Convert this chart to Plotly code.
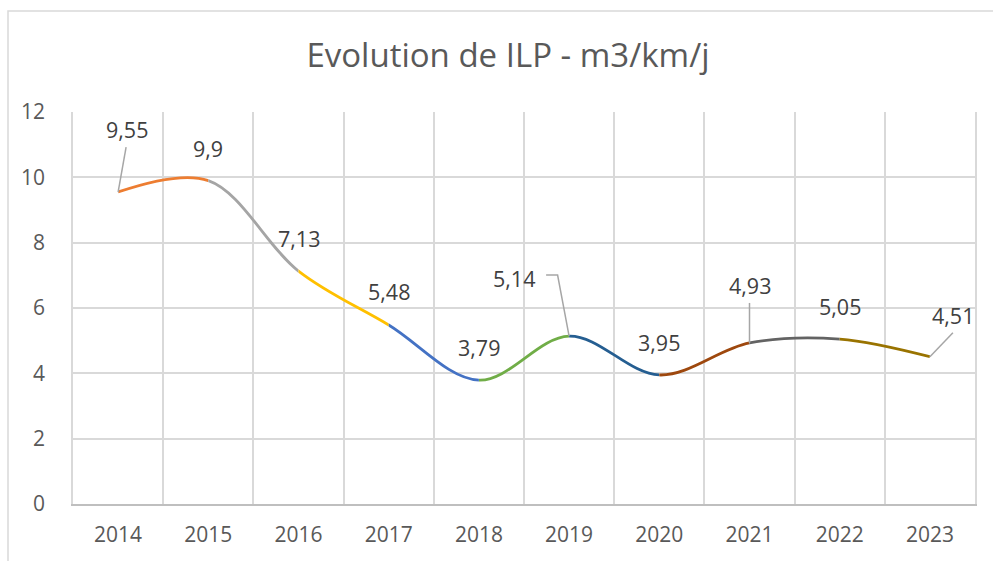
import plotly.graph_objects as go

years = ["2014", "2015", "2016", "2017", "2018", "2019", "2020", "2021", "2022", "2023"]
values = [9.55, 9.9, 7.13, 5.48, 3.79, 5.14, 3.95, 4.93, 5.05, 4.51]
labels = ["9,55", "9,9", "7,13", "5,48", "3,79", "5,14", "3,95", "4,93", "5,05", "4,51"]
seg_colors = ["#ED7D31", "#A5A5A5", "#FFC000", "#4472C4", "#70AD47",
              "#255E91", "#9E480E", "#636363", "#997300"]
y_ticks = [0, 2, 4, 6, 8, 10, 12]

# label offsets (pixels) relative to each point
label_shift = [(9, 63), (0, 32), (0, 33), (0, 33), (0, 33), (-55, 58),
               (0, 32), (0, 57), (0, 33), (23, 41)]
# leader line paths (pixels relative to point, y up)
leaders = {0: "M0,0 L8,45", 5: "M0,0 L-11.5,61 L-23,61", 7: "M0,0 L0,40", 9: "M0,0 L23,24"}

FONT = "Open Sans"
W, H = 993, 561
ML, MR, MT, MB = 73, 18, 112, 57
PW = W - ML - MR
PH = H - MT - MB

xs = list(range(len(years)))
n = len(years)

fig = go.Figure()
layout_axes = {}
for i in range(n - 1):
    ax_name = f"x{i + 2}"
    fig.add_trace(go.Scatter(
        x=xs, y=values, mode="lines",
        line=dict(color=seg_colors[i], width=2.8, shape="spline", smoothing=1, simplify=False),
        xaxis=ax_name, yaxis="y", hoverinfo="skip", showlegend=False,
    ))
    layout_axes[f"xaxis{i + 2}"] = dict(
        domain=[(i + 0.5) / n, (i + 1.5) / n], range=[i, i + 1],
        visible=False, anchor="y", fixedrange=True,
    )

annotations = []
for i, (lab, v) in enumerate(zip(labels, values)):
    dx, dy = label_shift[i]
    annotations.append(dict(
        x=xs[i], y=v, xref="x", yref="y", text=lab, showarrow=False,
        xshift=dx, yshift=dy, font=dict(family=FONT, size=21.5, color="#404040"),
    ))

shapes = []
for i, path in leaders.items():
    shapes.append(dict(
        type="path", xref="x", yref="y", xsizemode="pixel", ysizemode="pixel",
        xanchor=xs[i], yanchor=values[i], path=path,
        line=dict(color="#A6A6A6", width=1.5),
    ))
# outer chart border
shapes.append(dict(
    type="rect", xref="paper", yref="paper",
    x0=(8 - ML) / PW, x1=(1010 - ML) / PW,
    y0=(H - MB - 580) / PH, y1=(H - MB - 11) / PH,
    line=dict(color="#D9D9D9", width=1.5), fillcolor="rgba(0,0,0,0)", layer="below",
))

fig.update_layout(
    width=W, height=H,
    margin=dict(l=ML, r=MR, t=MT, b=MB),
    paper_bgcolor="white", plot_bgcolor="rgba(0,0,0,0)",
    title=dict(text="Evolution de ILP - m3/km/j", x=508 / W, xanchor="center",
               y=1 - 55 / H, yanchor="middle", xref="container", yref="container",
               font=dict(family=FONT, size=33, color="#595959")),
    xaxis=dict(
        range=[-0.5, n - 0.5], tickmode="array", tickvals=xs, ticktext=years,
        showgrid=False, zeroline=False, showline=True, linecolor="#BFBFBF", linewidth=1.5,
        ticks="", ticklabelstandoff=11,
        tickfont=dict(family=FONT, size=21, color="#595959"),
        minor=dict(tickvals=[k - 0.5 for k in range(n + 1)], showgrid=True,
                   gridcolor="#D9D9D9", gridwidth=1.5, ticks=""),
        fixedrange=True,
    ),
    yaxis=dict(
        range=[0, 12], tickmode="array", tickvals=y_ticks,
        ticktext=[str(t) for t in y_ticks],
        showgrid=True, gridcolor="#D9D9D9", gridwidth=1.5, zeroline=False,
        showline=True, mirror=True, linecolor="#D9D9D9", linewidth=1.5,
        ticks="", ticklabelstandoff=22,
        tickfont=dict(family=FONT, size=21, color="#595959"),
        fixedrange=True,
    ),
    annotations=annotations, shapes=shapes, showlegend=False,
    **layout_axes,
)

fig.write_html("out.html", config={"displayModeBar": False},
               post_script="document.body.style.margin='0px';")
